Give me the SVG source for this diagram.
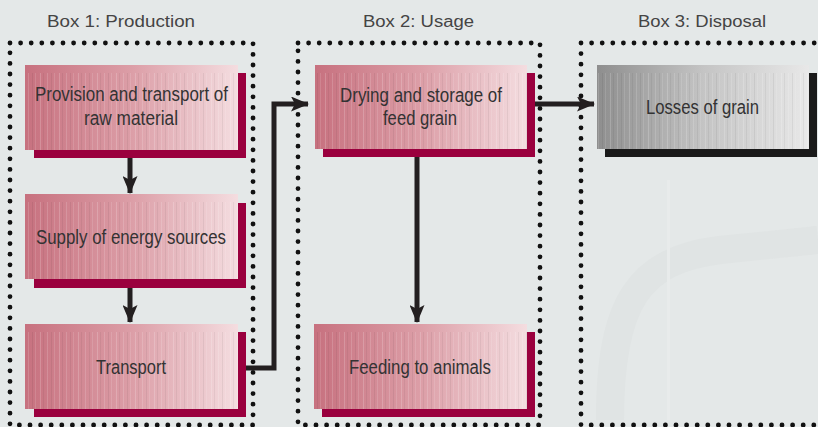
<svg xmlns="http://www.w3.org/2000/svg" width="818" height="427" viewBox="0 0 818 427">
<defs>
<linearGradient id="pink" x1="0" y1="0" x2="1" y2="0">
<stop offset="0" stop-color="#c7717f"/>
<stop offset="0.5" stop-color="#dc9ea7"/>
<stop offset="1" stop-color="#f4dde0"/>
</linearGradient>
<linearGradient id="gray" x1="0" y1="0" x2="1" y2="0">
<stop offset="0" stop-color="#8e8e8e"/>
<stop offset="0.5" stop-color="#c4c4c4"/>
<stop offset="1" stop-color="#e8e8e8"/>
</linearGradient>
<pattern id="stripes" width="19" height="10" patternUnits="userSpaceOnUse">
<rect x="2" y="0" width="1" height="10" fill="#fff" opacity="0.18"/>
<rect x="5" y="0" width="1" height="10" fill="#000" opacity="0.05"/>
<rect x="9" y="0" width="1" height="10" fill="#fff" opacity="0.15"/>
<rect x="13" y="0" width="1" height="10" fill="#000" opacity="0.06"/>
<rect x="16" y="0" width="1" height="10" fill="#fff" opacity="0.12"/>
</pattern>
<marker id="arr" viewBox="0 0 18 15" refX="17" refY="7.5" markerWidth="18" markerHeight="15" markerUnits="userSpaceOnUse" orient="auto">
<path d="M0,0 L18,7.5 L0,15 L4,7.5 Z" fill="#231f20"/>
</marker>
</defs>
<style>
.bg{fill:#e4e8e8}
.title{font-family:"Liberation Sans",Arial,sans-serif;font-size:16px;fill:#444}
.lbl{font-family:"Liberation Sans",Arial,sans-serif;font-size:19.5px;fill:#333}
.dots{fill:none;stroke:#111;stroke-width:4.8;stroke-linecap:round;stroke-dasharray:0 10.6}
.sh{fill:#9a003e}
.shg{fill:#1a1a1a}
.face{fill:url(#pink)}
.faceg{fill:url(#gray)}
.str{fill:url(#stripes)}
.con{fill:none;stroke:#231f20;stroke-width:5;marker-end:url(#arr)}
</style>
<rect class="bg" x="0" y="0" width="818" height="427"/>
<g id="backdrop" opacity="0.3">
<path d="M610,420 C610,300 640,260 720,250 L818,240" fill="none" stroke="#d8dcdc" stroke-width="28"/>
<rect x="667" y="180" width="3" height="240" fill="#f2f4f4"/>
</g>
<g id="frames">
<text class="title" x="47" y="27" textLength="148" lengthAdjust="spacingAndGlyphs">Box 1: Production</text>
<text class="title" x="363" y="27" textLength="111" lengthAdjust="spacingAndGlyphs">Box 2: Usage</text>
<text class="title" x="638" y="27" textLength="128" lengthAdjust="spacingAndGlyphs">Box 3: Disposal</text>
<path class="dots" d="M10,43 H253 V425 H10 Z"/>
<path class="dots" d="M298,43 H540 V425 H298 Z"/>
<path class="dots" d="M581,43 H830 M581,43 V425 H830"/>
</g>
<g id="connectors">
<path class="con" d="M130,150 V193"/>
<path class="con" d="M130,279 V322"/>
<path class="con" d="M238,368 H274 V104 H308"/>
<path class="con" d="M528,104 H594"/>
<path class="con" d="M417,149 V322"/>
</g>
<g id="n1">
<rect class="sh" x="34" y="73" width="212" height="85"/>
<rect class="face" x="25" y="65" width="213" height="85"/>
<rect class="str" x="25" y="73" width="213" height="77"/>
<text class="lbl" x="35" y="101" textLength="193" lengthAdjust="spacingAndGlyphs">Provision and transport of</text>
<text class="lbl" x="84" y="125" textLength="94" lengthAdjust="spacingAndGlyphs">raw material</text>
</g>
<g id="n2">
<rect class="sh" x="34" y="203" width="212" height="85"/>
<rect class="face" x="25" y="194" width="213" height="85"/>
<rect class="str" x="25" y="202" width="213" height="77"/>
<text class="lbl" x="36" y="244" textLength="190" lengthAdjust="spacingAndGlyphs">Supply of energy sources</text>
</g>
<g id="n3">
<rect class="sh" x="34" y="332" width="212" height="85"/>
<rect class="face" x="25" y="324" width="213" height="85"/>
<rect class="str" x="25" y="332" width="213" height="77"/>
<text class="lbl" x="96" y="374" textLength="70" lengthAdjust="spacingAndGlyphs">Transport</text>
</g>
<g id="n4">
<rect class="sh" x="323" y="73" width="212" height="84"/>
<rect class="face" x="315" y="65" width="212" height="84"/>
<rect class="str" x="315" y="73" width="212" height="76"/>
<text class="lbl" x="340" y="102" textLength="162" lengthAdjust="spacingAndGlyphs">Drying and storage of</text>
<text class="lbl" x="383" y="125" textLength="74" lengthAdjust="spacingAndGlyphs">feed grain</text>
</g>
<g id="n5">
<rect class="sh" x="322" y="332" width="213" height="85"/>
<rect class="face" x="314" y="324" width="213" height="85"/>
<rect class="str" x="314" y="332" width="213" height="77"/>
<text class="lbl" x="349" y="374" textLength="142" lengthAdjust="spacingAndGlyphs">Feeding to animals</text>
</g>
<g id="n6">
<rect class="shg" x="605" y="73" width="212" height="84"/>
<rect class="faceg" x="597" y="65" width="212" height="84"/>
<rect class="str" x="597" y="73" width="212" height="76"/>
<text class="lbl" x="646" y="114" textLength="113" lengthAdjust="spacingAndGlyphs">Losses of grain</text>
</g>
</svg>
